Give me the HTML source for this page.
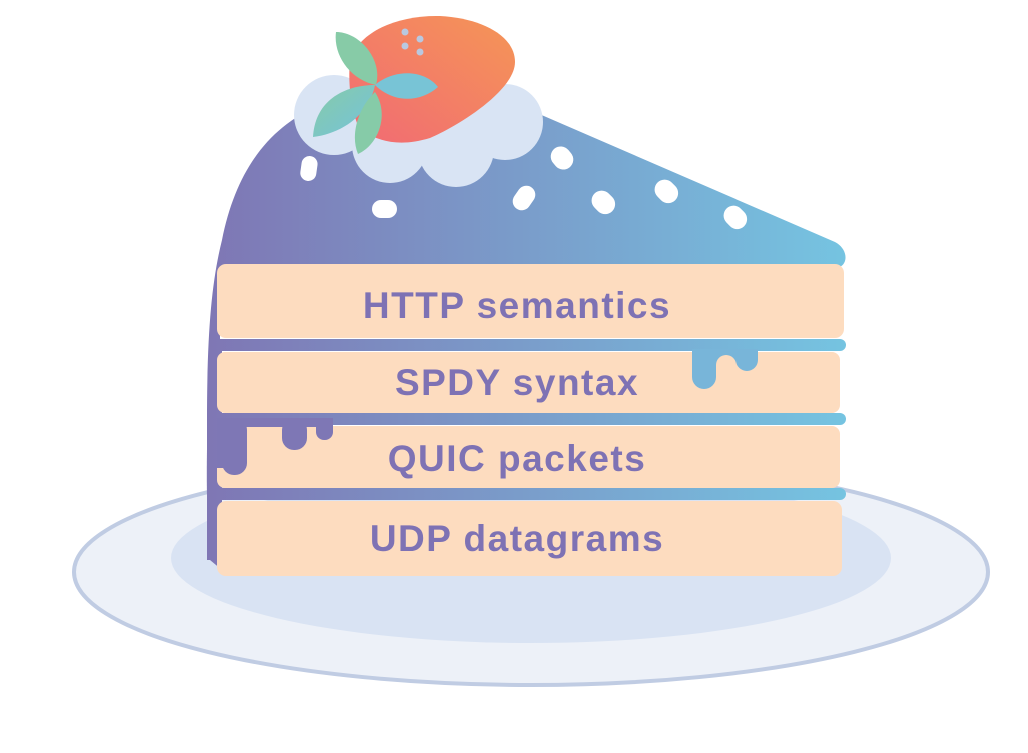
<!DOCTYPE html>
<html><head><meta charset="utf-8"><style>
html,body{margin:0;padding:0;background:#fff;width:1028px;height:753px;overflow:hidden}
svg text{font-family:"Liberation Sans",sans-serif;font-weight:bold;font-size:37px;letter-spacing:1.5px;fill:#7e72b4;text-anchor:middle}
</style></head><body>
<svg width="1028" height="753" viewBox="0 0 1028 753">
<defs>
<linearGradient id="g" x1="205" y1="0" x2="848" y2="0" gradientUnits="userSpaceOnUse">
<stop offset="0" stop-color="#7f76b4"/><stop offset="1" stop-color="#75c4e1"/></linearGradient>
<linearGradient id="s" x1="0" y1="1" x2="1" y2="0">
<stop offset="0" stop-color="#f16a74"/><stop offset="1" stop-color="#f59656"/></linearGradient>
<linearGradient id="l1" x1="0" y1="0" x2="1" y2="1">
<stop offset="0" stop-color="#87cba7"/><stop offset="1" stop-color="#74c2dc"/></linearGradient>
</defs>
<ellipse cx="531" cy="572" rx="457" ry="113" fill="#edf1f8" stroke="#c0cce3" stroke-width="4"/>
<ellipse cx="531" cy="558" rx="360" ry="85" fill="#d9e3f3"/>
<path d="M207 560 L207 420 C207 330 212 280 222 240 C240 150 290 100 380 90 L530 110 L835 242 C850 250 848 268 835 268 L220 268 L220 560 Z" fill="url(#g)"/>
<path d="M210 560 C205 500 206 420 212 350 L222 350 L222 570 Z" fill="url(#g)"/>
<rect x="217" y="264" width="627" height="74" rx="9" fill="#fddcbf"/>
<rect x="214" y="339" width="632" height="12" rx="6" fill="url(#g)"/>
<rect x="217" y="352" width="623" height="61" rx="8" fill="#fddcbf"/>
<rect x="214" y="413" width="632" height="12" rx="6" fill="url(#g)"/>
<rect x="217" y="426" width="623" height="62" rx="8" fill="#fddcbf"/>
<rect x="214" y="488" width="632" height="12" rx="6" fill="url(#g)"/>
<rect x="217" y="501" width="625" height="75" rx="9" fill="#fddcbf"/>
<path d="M692 349 L692 377 A12 12 0 0 0 716 377 L716 365 A10 10 0 0 1 736 365 L736 360 A11 11 0 0 0 758 360 L758 349 Z" fill="#78b5d9"/>
<g fill="#7e77b5">
<rect x="218" y="418" width="115" height="9"/>
<rect x="222" y="418" width="25" height="57" rx="12"/>
<rect x="282" y="418" width="25" height="32" rx="12"/>
<rect x="316" y="418" width="17" height="22" rx="8"/>
<rect x="217" y="418" width="10" height="50"/>
</g>
<g fill="#fff">
<rect x="301" y="156" width="16" height="25" rx="8" transform="rotate(8 309 168)"/>
<rect x="372" y="200" width="25" height="18" rx="9"/>
<rect x="552" y="146" width="20" height="24" rx="10" transform="rotate(-40 562 158)"/>
<rect x="515" y="185" width="18" height="26" rx="9" transform="rotate(35 524 198)"/>
<rect x="593" y="190" width="20" height="25" rx="10" transform="rotate(-45 603 202)"/>
<rect x="656" y="179" width="20" height="25" rx="10" transform="rotate(-45 666 191)"/>
<rect x="725" y="205" width="20" height="25" rx="10" transform="rotate(-45 735 217)"/>
</g>
<g fill="#d9e4f4">
<circle cx="334" cy="115" r="40"/>
<circle cx="390" cy="145" r="38"/>
<circle cx="456" cy="149" r="38"/>
<circle cx="505" cy="122" r="38"/>
<circle cx="430" cy="115" r="50"/>
</g>
<path d="M350 60 C360 30 400 15 440 16 C480 18 515 35 515 62 C515 90 460 125 430 138 C400 147 380 142 360 130 C350 110 348 80 350 60 Z" fill="url(#s)"/>
<g fill="#b9c8e0"><circle cx="405" cy="32" r="3.5"/><circle cx="420" cy="39" r="3.5"/><circle cx="405" cy="46" r="3.5"/><circle cx="420" cy="52" r="3.5"/></g>
<path d="M336 32 C360 32 383 60 376 85 C350 80 333 55 336 32 Z" fill="#87cba7"/>
<path d="M375 85 C395 68 425 70 438 87 C420 103 393 103 375 85 Z" fill="#78c4d6"/>
<path d="M375 85 C345 85 315 100 313 137 C345 133 370 112 375 85 Z" fill="url(#l1)"/>
<path d="M375 92 C358 108 350 135 358 154 C378 145 390 115 375 92 Z" fill="#86cba8"/>
<text x="517" y="318">HTTP semantics</text>
<text x="517" y="395">SPDY syntax</text>
<text x="517" y="471">QUIC packets</text>
<text x="517" y="551">UDP datagrams</text>
</svg>
</body></html>
